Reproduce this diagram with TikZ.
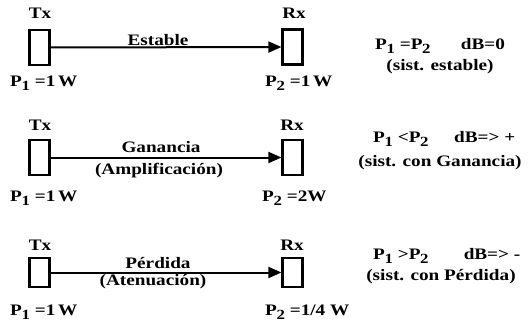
\documentclass[tikz,border=0pt]{standalone}
\usepackage{fontspec}
\setmainfont{Liberation Serif}[FakeStretch=1.2]
\usetikzlibrary{arrows.meta}
\newcommand{\Psub}[1]{P\kern-0.02em\raisebox{-0.5ex}{\fontsize{14}{14}\selectfont #1}}
\begin{document}
\begin{tikzpicture}[x=1pt,y=-1pt,
  every node/.style={font=\bfseries\fontsize{16}{18}\selectfont, inner sep=0pt},
  dev/.style={draw, line width=2.2pt, minimum width=20pt, minimum height=35pt},
  devs/.style={dev, minimum height=29pt},
  sig/.style={line width=2pt, -{Triangle[length=13pt,width=11pt]}},
  lbl/.style={anchor=west},
  rtext/.style={font=\bfseries\fontsize{16}{18}\selectfont}]
\useasboundingbox (0,0) rectangle (528,332);
% row 1
\node[dev] (tx1) at (39.5,47.5) {};
\node[dev] (rx1) at (292.5,47) {};
\node (txl1) at (40,13) {Tx};
\node (rxl1) at (294,13) {Rx};
\draw[sig] (tx1) -- (rx1);
\node (e1) at (158,40) {Estable};
\node[lbl] (p11) at (10,83) {\Psub{1} =1\,W};
\node[lbl] (p21) at (265,83) {\Psub{2} =1\,W};
\node[rtext,anchor=west] (r11) at (375,46) {\Psub{1} =\Psub{2}\hspace{1.9em}dB=0};
\node[rtext] (r12) at (440,67) {(sist. estable)};
% row 2
\node[dev] (tx2) at (39.5,157.5) {};
\node[dev] (rx2) at (292.5,157.5) {};
\node (txl2) at (40,125) {Tx};
\node (rxl2) at (292,125) {Rx};
\draw[sig] (tx2) -- (rx2);
\node (e2) at (161,147) {Ganancia};
\node (e2b) at (159,171) {(Amplificación)};
\node[lbl] (p12) at (10,198) {\Psub{1} =1\,W};
\node[lbl] (p22) at (262,198) {\Psub{2} =2W};
\node[rtext,anchor=west] (r21) at (373,139) {\Psub{1} <\Psub{2}\hspace{1.6em}dB=> +};
\node[rtext] (r22) at (440,163) {(sist. con Ganancia)};
% row 3
\node[devs] (tx3) at (39.5,272.5) {};
\node[devs] (rx3) at (292.5,272.5) {};
\node (txl3) at (40,245) {Tx};
\node (rxl3) at (292,245) {Rx};
\draw[sig] (tx3) -- (rx3);
\node (e3) at (158,263) {Pérdida};
\node (e3b) at (153,282) {(Atenuación)};
\node[lbl] (p13) at (10,312) {\Psub{1} =1\,W};
\node[lbl] (p23) at (265,312) {\Psub{2} =1/4 W};
\node[rtext,anchor=west] (r31) at (373,256) {\Psub{1} >\Psub{2}\hspace{2.2em}dB=> -};
\node[rtext] (r32) at (441,277) {(sist. con Pérdida)};
\end{tikzpicture}
\end{document}
